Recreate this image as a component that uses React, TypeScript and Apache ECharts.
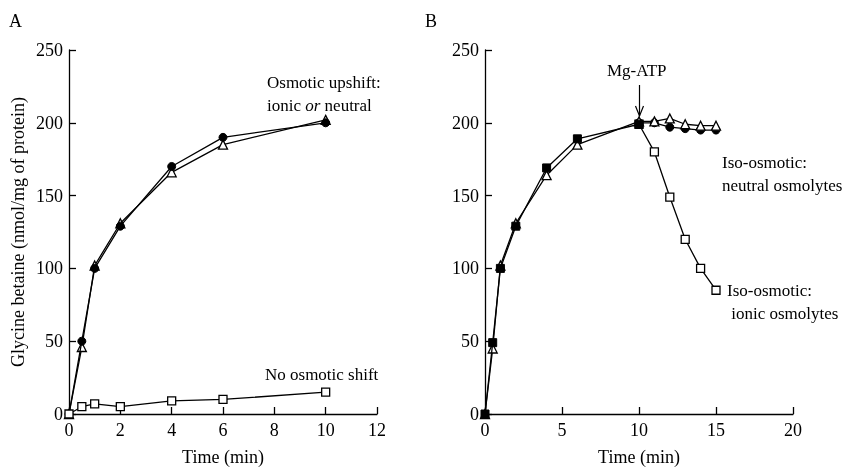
import React, { useEffect, useRef } from "react";
import * as echarts from "echarts";

const timeA = [0, 0.5, 1, 2, 4, 6, 10];
const upshiftCircles = [0, 50, 100, 129, 170, 190, 200];
const upshiftTriangles = [0, 46, 102, 131, 166, 185, 202];
const noShiftSquares = [0, 5, 7, 5, 9, 10, 15];

const timeB = [0, 0.5, 1, 2, 4, 6, 10, 11, 12, 13, 14, 15];
const bFilledSquaresT = [0, 0.5, 1, 2, 4, 6, 10];
const bFilledSquares = [0, 49, 100, 129, 169, 189, 199];
const bTriangles = [0, 45, 102, 131, 164, 185, 201, 201, 203, 199, 198, 198];
const bCirclesT = [10, 11, 12, 13, 14, 15];
const bCircles = [200, 200, 197, 196, 195, 195];
const bOpenSquaresT = [10, 11, 12, 13, 14, 15];
const bOpenSquares = [199, 180, 149, 120, 100, 85];

const yTicks = [0, 50, 100, 150, 200, 250];

const FONT = "'Liberation Serif', 'Times New Roman', serif";

function pairs(xs: number[], ys: number[]) {
  return xs.map((x, i) => [x, ys[i]]);
}

export default function App() {
  const ref = useRef<HTMLDivElement>(null);
  useEffect(() => {
    if (!ref.current) return;
    const chart = echarts.init(ref.current, undefined, { renderer: "svg" });
    const axisCommon = {
      axisLine: { show: true, lineStyle: { color: "#000", width: 1.3 } },
      axisTick: { show: true, inside: true, length: 7, lineStyle: { color: "#000", width: 1.3 } },
      splitLine: { show: false },
    };
    const xLabel = { color: "#000", fontFamily: FONT, fontSize: 18, margin: 7 };
    const yLabel = { color: "#000", fontFamily: FONT, fontSize: 18, margin: 6 };
    const lineBase = {
      type: "line",
      symbolSize: 8,
      lineStyle: { color: "#000", width: 1.3 },
      emphasis: { disabled: true },
    };
    const filled = { color: "#000", borderColor: "#000", borderWidth: 1 };
    const open = { color: "#fff", borderColor: "#000", borderWidth: 1.3 };
    const nameStyle = { color: "#000", fontFamily: FONT, fontSize: 18 };
    chart.setOption({
      animation: false,
      textStyle: { fontFamily: FONT },
      grid: [
        { left: 69, top: 50, width: 308, height: 364, outerBoundsMode: "none", containLabel: false },
        { left: 485, top: 50, width: 308, height: 364, outerBoundsMode: "none", containLabel: false },
      ],
      xAxis: [
        {
          ...axisCommon,
          axisLabel: xLabel,
          gridIndex: 0,
          type: "value",
          min: 0,
          max: 12,
          interval: 2,
          name: "Time (min)",
          nameLocation: "middle",
          nameGap: 34,
          nameTextStyle: nameStyle,
        },
        {
          ...axisCommon,
          axisLabel: xLabel,
          gridIndex: 1,
          type: "value",
          min: 0,
          max: 20,
          interval: 5,
          name: "Time (min)",
          nameLocation: "middle",
          nameGap: 34,
          nameTextStyle: nameStyle,
        },
      ],
      yAxis: [
        {
          ...axisCommon,
          axisLabel: yLabel,
          gridIndex: 0,
          type: "value",
          min: yTicks[0],
          max: yTicks[yTicks.length - 1],
          interval: 50,
          name: "Glycine betaine (nmol/mg of protein)",
          nameLocation: "middle",
          nameGap: 42,
          nameTextStyle: nameStyle,
        },
        {
          ...axisCommon,
          axisLabel: yLabel,
          gridIndex: 1,
          type: "value",
          min: yTicks[0],
          max: yTicks[yTicks.length - 1],
          interval: 50,
        },
      ],
      series: [
        { ...lineBase, xAxisIndex: 0, yAxisIndex: 0, symbol: "triangle", symbolSize: 9, itemStyle: open, data: pairs(timeA, upshiftTriangles), z: 2 },
        { ...lineBase, xAxisIndex: 0, yAxisIndex: 0, symbol: "circle", itemStyle: filled, data: pairs(timeA, upshiftCircles), z: 3 },
        { ...lineBase, xAxisIndex: 0, yAxisIndex: 0, symbol: "rect", symbolSize: 8, itemStyle: open, data: pairs(timeA, noShiftSquares), z: 3 },
        { ...lineBase, xAxisIndex: 1, yAxisIndex: 1, symbol: "rect", symbolSize: 8, itemStyle: open, data: pairs(bOpenSquaresT, bOpenSquares), z: 2 },
        { ...lineBase, xAxisIndex: 1, yAxisIndex: 1, symbol: "circle", itemStyle: filled, data: pairs(bCirclesT, bCircles), z: 2 },
        { ...lineBase, xAxisIndex: 1, yAxisIndex: 1, symbol: "triangle", symbolSize: 9, itemStyle: open, data: pairs(timeB, bTriangles), z: 3 },
        { ...lineBase, xAxisIndex: 1, yAxisIndex: 1, symbol: "rect", symbolSize: 8, itemStyle: filled, data: pairs(bFilledSquaresT, bFilledSquares), z: 4 },
      ],
      graphic: [
        { type: "text", left: 9, top: 12, style: { text: "A", font: `18px ${FONT}`, fill: "#000" } },
        { type: "text", left: 425, top: 12, style: { text: "B", font: `18px ${FONT}`, fill: "#000" } },
        {
          type: "text",
          left: 267,
          top: 71,
          style: {
            text: "Osmotic upshift:\nionic {i|or} neutral",
            font: `17px ${FONT}`,
            fill: "#000",
            lineHeight: 23,
            rich: { i: { fontStyle: "italic", fontFamily: FONT, fontSize: 17, lineHeight: 23 } },
          },
        },
        { type: "text", left: 265, top: 366, style: { text: "No osmotic shift", font: `17px ${FONT}`, fill: "#000" } },
        { type: "text", left: 607, top: 62, style: { text: "Mg-ATP", font: `17px ${FONT}`, fill: "#000" } },
        { type: "line", shape: { x1: 639.5, y1: 85, x2: 639.5, y2: 116 }, style: { stroke: "#000", lineWidth: 1.2 } },
        { type: "polyline", shape: { points: [[635.5, 106], [639.5, 116], [643.5, 106]] }, style: { stroke: "#000", lineWidth: 1.2, fill: null } },
        {
          type: "text",
          left: 722,
          top: 151,
          style: { text: "Iso-osmotic:\nneutral osmolytes", font: `17px ${FONT}`, fill: "#000", lineHeight: 23 },
        },
        {
          type: "text",
          left: 727,
          top: 279,
          style: { text: "Iso-osmotic:\n ionic osmolytes", font: `17px ${FONT}`, fill: "#000", lineHeight: 23 },
        },
      ],
    });
    return () => chart.dispose();
  }, []);
  return <div ref={ref} style={{ width: 856, height: 468, position: "fixed", left: 0, top: 0 }} />;
}
